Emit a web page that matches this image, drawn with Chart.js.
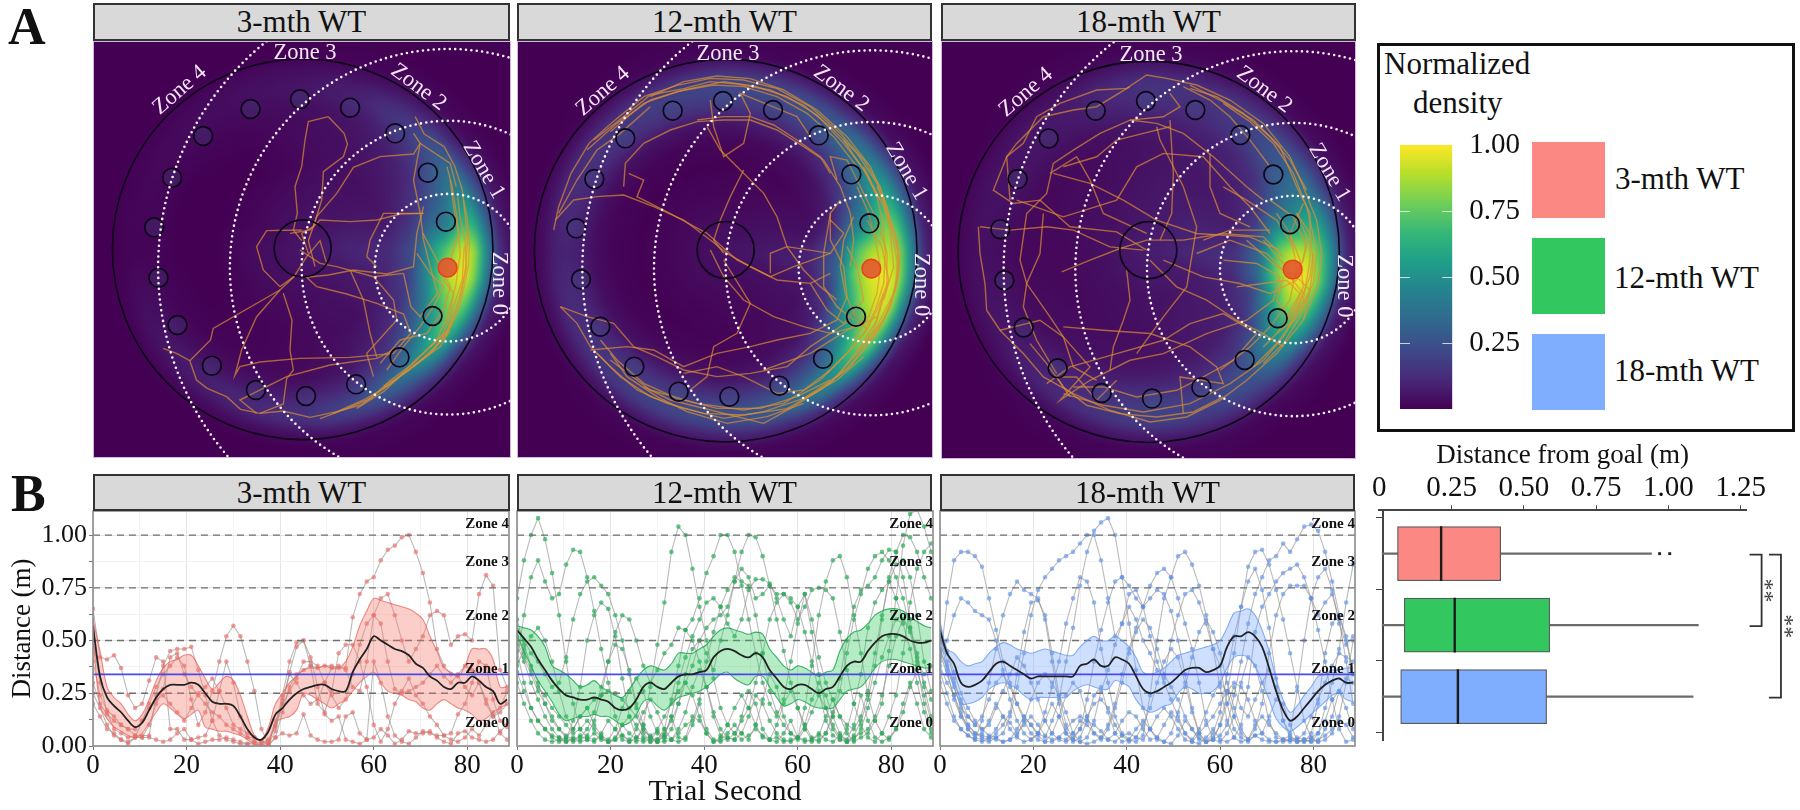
<!DOCTYPE html>
<html>
<head>
<meta charset="utf-8">
<script src="https://cdn.jsdelivr.net/npm/chart.js@4"></script>
<style>
  html, body { margin: 0; background: #fff; }
  #page { position: relative; width: 1800px; height: 810px; overflow: hidden; font-family: "Liberation Serif", serif; color: #111; }
  #page canvas { position: absolute; }
  .strip { position: absolute; box-sizing: border-box; background: #d9d9d9; border: 2px solid #333; text-align: center; font-size: 31px; }
  .txt { position: absolute; white-space: nowrap; line-height: 1; }
  .swatch { position: absolute; }
</style>
</head>
<body>
<div id="page"></div>
<script>
// ---- panel names and colours
const groups = ['3-mth WT', '12-mth WT', '18-mth WT'];
const groupFill = ['#fb8882', '#33c85f', '#7fadff'];

// ---- trial seconds, one reading every 1.5 s
const secs = [0,1.5,3,4.5,6,7.5,9,10.5,12,13.5,15,16.5,18,19.5,21,22.5,24,25.5,27,28.5,30,31.5,33,34.5,36,37.5,39,40.5,42,43.5,45,46.5,48,49.5,51,52.5,54,55.5,57,58.5,60,61.5,63,64.5,66,67.5,69,70.5,72,73.5,75,76.5,78,79.5,81,82.5,84,85.5,87,88.5];

// distance values below are in cm
const mean3 = [57,33,23,19,16,12,9,11,17,23,27,29,29,29,30,29,25,21,20,20,19,14,8,4,3,7,15,18,22,25,27,28,29,29,27,26,26,35,41,46,52,50,48,46,45,43,39,37,33,31,28,27,30,30,33,31,28,26,20,22];
const upper3 = [60,45,28,23,20,15,12,15,22,31,37,40,41,43,43,38,32,27,30,33,31,24,14,5,3,9,20,25,30,33,36,37,37,38,37,37,40,47,57,64,70,69,68,67,66,65,63,60,52,45,37,35,33,38,46,46,46,41,28,28];
const lower3 = [52,19,13,9,7,5,4,6,11,16,20,18,15,13,15,17,9,8,7,7,6,5,3,1,0,1,11,13,14,17,25,24,22,20,18,20,22,26,30,33,35,30,26,25,24,22,21,18,17,20,22,20,18,17,15,12,13,16,18,20];
const mean12 = [55,51,47,41,36,31,27,24,23,22,22,23,22,21,18,17,18,22,28,30,28,27,30,33,34,34,35,36,42,45,46,45,43,42,44,42,36,32,28,27,29,29,27,25,27,28,33,38,40,40,45,49,52,53,53,52,50,49,49,50];
const upper12 = [57,56,55,52,47,38,36,34,31,28,29,31,28,26,24,23,27,32,36,38,37,36,39,44,44,44,46,48,52,55,56,55,54,53,54,53,46,42,38,36,38,37,35,33,35,36,45,51,54,55,58,62,64,65,65,64,61,59,57,56];
const lower12 = [53,45,38,31,26,21,15,12,13,14,14,15,14,14,12,10,11,15,21,22,19,17,20,23,24,25,26,28,31,34,35,32,30,29,33,33,28,23,19,20,22,21,19,18,18,18,22,26,27,28,32,37,40,41,41,40,39,38,37,37];
const mean18 = [55,44,39,30,28,29,31,35,39,40,38,36,34,32,33,33,33,33,33,33,38,39,41,38,38,42,41,39,33,27,25,26,28,30,33,36,37,37,35,36,38,47,52,52,54,52,47,37,26,17,12,14,18,22,26,29,31,32,30,30];
const upper18 = [59,46,44,40,38,39,40,44,47,49,48,46,45,44,45,46,45,44,43,43,47,50,52,50,50,52,50,47,42,35,34,35,37,40,43,44,45,46,47,48,50,56,63,64,65,62,55,45,32,22,16,19,24,28,33,34,36,36,37,37];
const lower18 = [52,37,28,20,20,21,23,27,29,30,29,27,24,22,23,23,23,23,23,26,28,29,28,27,27,31,30,28,22,18,16,17,19,20,25,28,27,25,25,26,30,37,42,43,42,38,30,22,13,9,7,9,12,15,18,21,24,25,22,21];

const trials3 = [
  [65,42,41,43,37,24,18,20,31,42,40,8,8,3,3,4,5,12,26,40,30,14,4,2,1,3,9,20,35,47,50,42,28,15,12,14,3,2,1,3,40,30,14,5,2,1,4,7,6,5,5,3,2,4,8,5,10,16,6,3],
  [50,30,16,8,6,4,5,5,5,24,38,45,46,46,47,36,24,12,5,3,2,1,1,2,0,2,10,24,40,49,50,38,20,16,26,44,48,48,40,28,10,2,8,20,26,32,24,20,14,10,5,6,15,20,30,40,38,22,12,9],
  [25,18,10,5,3,1,4,12,20,28,34,38,42,38,22,10,16,26,40,52,57,52,40,26,8,1,4,16,28,34,36,38,37,38,38,37,37,61,72,78,80,88,93,95,99,100,92,82,68,46,38,34,33,28,24,30,20,14,16,20],
  [20,14,8,6,3,2,4,4,4,3,2,3,6,8,3,1,2,3,3,4,3,2,1,1,0,0,4,6,5,6,15,5,3,2,2,3,14,16,6,3,4,8,5,1,3,7,6,6,7,4,2,1,6,7,4,3,2,3,7,10],
  [40,24,17,14,10,8,5,4,10,20,27,42,44,34,28,24,20,16,14,10,8,6,4,4,2,2,12,20,26,32,40,40,38,30,24,18,22,34,48,58,62,70,72,62,50,40,46,52,62,64,62,48,52,53,50,72,81,76,36,28],
  [30,20,15,12,10,8,8,12,18,22,24,20,16,12,18,25,28,32,26,18,10,8,6,4,2,1,7,22,34,30,24,20,22,30,37,38,36,28,26,40,62,58,40,27,25,26,28,30,34,38,33,30,34,38,36,30,22,14,18,26]
];
const trials12 = [
  [70,88,100,108,98,82,62,40,20,8,4,3,4,2,3,5,3,2,10,28,48,68,92,104,100,84,66,50,32,18,10,6,3,5,8,5,3,4,2,3,4,18,38,62,78,88,90,80,62,44,24,12,20,45,70,95,110,112,104,92],
  [40,62,80,88,78,70,72,86,93,92,80,64,46,30,14,5,2,4,8,4,2,5,14,30,42,52,60,68,70,66,58,52,60,74,79,79,77,70,60,52,66,72,54,34,18,8,3,2,5,12,22,38,60,80,92,100,99,92,80,70],
  [55,50,44,40,34,28,30,42,60,72,78,80,76,72,62,50,34,18,6,2,3,6,12,20,30,38,50,56,60,62,66,78,92,100,99,90,76,60,45,30,18,10,4,2,6,14,26,44,60,72,84,90,92,88,80,70,56,42,30,22],
  [45,30,18,12,8,5,4,3,12,28,50,62,68,65,52,32,14,4,3,5,7,4,3,6,10,12,22,40,54,66,74,80,78,76,62,44,26,16,10,6,4,3,2,3,6,16,32,50,66,74,76,80,88,93,92,80,60,38,20,8],
  [30,20,12,6,3,2,3,2,4,2,3,6,3,2,4,10,6,3,2,3,2,5,14,4,3,10,20,8,3,2,4,3,14,26,20,8,3,2,6,12,4,2,3,6,3,2,5,3,10,24,12,4,2,4,8,20,30,20,8,4],
  [50,42,34,26,20,14,8,4,2,3,5,12,24,40,54,62,60,50,38,30,36,44,48,56,55,50,40,28,14,5,3,6,12,18,30,44,60,68,72,70,66,54,40,26,12,5,3,8,20,34,56,68,74,78,70,60,54,40,34,38],
  [60,48,38,30,20,12,8,5,3,4,8,16,28,40,48,46,36,20,10,4,3,8,22,38,55,60,70,82,90,100,100,92,76,60,44,30,20,14,22,40,58,72,60,42,30,22,14,10,8,14,26,44,62,78,86,88,80,62,40,26],
  [35,26,18,12,8,4,2,4,8,14,18,10,5,3,8,18,26,32,26,14,6,3,8,20,34,46,50,44,36,50,62,78,84,80,70,72,76,72,72,68,60,66,74,75,74,70,54,36,20,10,4,2,6,14,24,44,68,84,92,96],
  [52,44,36,28,24,18,14,10,6,8,12,8,4,2,3,10,14,10,4,2,8,14,20,26,30,24,14,6,2,3,6,10,6,3,10,22,34,28,14,6,3,8,16,24,18,10,4,2,4,6,8,14,24,38,52,60,56,44,28,14],
  [38,46,52,56,50,40,26,14,8,14,18,22,24,26,25,22,18,14,8,4,2,2,3,8,16,28,36,28,16,8,4,3,6,14,24,20,12,6,3,2,4,10,22,30,24,14,6,2,3,8,18,30,42,52,60,58,46,30,16,6],
  [48,40,30,22,14,8,4,2,3,5,3,2,6,12,8,3,2,8,16,22,16,8,3,2,4,14,12,6,2,4,10,18,24,18,10,4,3,10,20,26,18,8,3,5,14,22,14,6,2,4,6,12,6,3,8,16,28,36,24,12]
];
const trials18 = [
  [40,68,88,92,92,90,85,70,55,40,30,20,14,10,6,4,12,22,40,56,76,92,102,106,108,100,80,58,36,18,8,4,2,1,5,12,8,4,2,3,5,10,24,40,58,72,80,88,90,96,92,98,104,105,102,92,78,62,50,34],
  [50,45,35,25,18,12,8,5,4,6,14,28,44,62,74,80,84,88,90,92,96,100,100,88,70,52,58,72,74,66,52,40,30,22,14,6,2,1,4,8,3,2,4,10,28,54,66,72,78,82,84,86,80,70,55,40,22,8,2,3],
  [42,50,62,70,68,64,62,60,50,36,22,12,6,3,6,16,28,40,58,70,80,78,68,46,30,14,6,3,2,5,24,50,70,80,90,92,86,76,62,46,28,12,4,2,3,8,20,44,62,72,76,76,76,70,62,68,72,60,40,20],
  [35,25,14,8,5,3,12,30,46,62,72,78,74,72,70,60,40,20,6,3,8,22,40,55,68,78,80,76,70,66,70,74,72,64,50,34,18,6,2,3,10,25,44,66,85,92,93,86,74,60,44,28,12,4,2,3,6,14,30,50],
  [46,36,22,14,10,6,4,3,6,10,16,34,54,68,69,62,44,24,10,3,2,4,12,26,36,48,58,66,60,50,44,36,32,50,62,72,74,68,58,46,38,20,8,4,2,5,6,14,22,20,10,3,2,6,20,44,58,62,52,34],
  [30,20,12,8,5,3,2,4,8,14,11,6,10,14,10,5,3,4,8,12,14,12,10,7,3,2,5,6,4,3,8,14,18,14,8,3,2,6,10,14,20,26,30,28,22,12,6,3,2,2,3,2,3,2,3,5,8,12,10,4],
  [45,38,30,22,14,10,14,22,30,34,28,20,12,6,3,2,6,14,24,30,26,14,6,3,8,18,30,44,54,60,56,46,34,28,22,14,8,3,2,6,16,34,52,66,78,84,74,56,32,12,6,26,50,70,80,84,74,58,48,52],
  [52,44,32,20,10,6,5,4,3,2,3,5,12,22,30,34,30,24,16,6,2,1,2,4,10,20,34,46,56,66,76,82,84,80,70,58,46,30,12,3,2,6,14,30,42,38,26,12,4,3,5,2,3,4,6,18,30,46,68,86],
  [38,30,24,14,8,5,6,12,20,14,8,4,2,3,6,12,20,14,6,2,4,12,24,28,16,6,2,3,8,12,8,3,2,6,16,28,42,54,60,54,44,30,18,8,3,5,3,2,2,3,3,2,2,3,2,8,14,26,32,30],
  [55,40,28,18,14,10,8,10,18,26,34,42,38,30,22,12,6,3,2,4,8,14,20,22,18,10,5,2,4,10,18,30,40,46,42,30,16,6,2,4,10,20,28,18,14,22,30,36,28,12,4,3,6,14,22,30,38,44,42,40],
  [44,34,24,16,8,4,3,2,4,2,3,8,14,10,5,2,2,4,3,6,12,10,6,4,3,6,12,16,14,8,3,4,10,16,12,6,3,8,16,24,30,26,14,6,3,10,14,10,6,3,2,4,3,2,6,12,22,26,18,8]
];

const zoneLevels = [0.25, 0.5, 0.75, 1.0];
const goalDistance = 0.34;
const zoneNames = ['Zone 0', 'Zone 1', 'Zone 2', 'Zone 3', 'Zone 4'];
const zoneLabelAt = [0.11, 0.364, 0.615, 0.87, 1.05];

// ---- box plot, distance from goal (m)
const boxRows = [1, 2, 3];
const boxLow = [0.01, 0.01, 0.01];
const boxQ1 = [0.063, 0.0865, 0.074];
const boxMedian = [0.214, 0.261, 0.272];
const boxQ3 = [0.42, 0.59, 0.579];
const boxHigh = [0.942, 1.104, 1.086];
const outlierX = [0.97, 1.005];
const bracketFrom = [1, 1];
const bracketTo = [2, 3];
const bracketAt = [1.323, 1.39];

// ---- arena maps, all in the map grid (one grid unit = 1/3 px)
const mapBounds = [[280, 1532, 123, 1374], [20, 1268, 123, 1374], [33, 1278, 123, 1376]];
const arenaX = [908, 646, 656];
const arenaY = [748, 752, 755];
const arenaR = [570, 574, 572];
const zoneR = [221, 440, 655, 870];
const goalX = [1342, 1083, 1088];
const goalY = [803, 806, 808];
const platX = [908, 646, 655];
const platY = [745, 750, 750];
const holesX = [
  [1337,1283,1185,1050,900,752,610,517,463,476,533,636,768,918,1068,1198,1297],
  [1077,1023,925,788,638,487,345,252,198,212,270,372,505,657,807,938,1037],
  [1080,1030,931,796,648,497,356,263,211,223,281,383,515,666,814,944,1043]
];
const holesY = [
  [665,518,400,323,298,327,408,533,682,833,975,1097,1170,1188,1153,1072,948],
  [670,523,406,330,303,332,415,537,685,838,980,1100,1175,1190,1157,1076,950],
  [672,523,405,330,303,332,415,537,687,840,982,1104,1178,1195,1161,1079,954]
];
const zoneTagX = [587, 542, 347, 7, -368];
const zoneTagY = [102, -238, -486, -590, -478];
const zoneTagTurn = [90, 60, 37, 0, -41];

// swim tracks as x,y,x,y...
const tracks3 = [
  [490,1045,530,1060,570,1082,590,1140,622,1165,680,1190,722,1228,780,1240,850,1233,930,1252,1010,1235,1082,1215,1130,1180,1192,1135,1250,1076,1302,1030,1352,980,1376,900,1395,812,1402,720,1394,640,1386,570,1364,500,1332,440,1272,402,1245,350],
  [960,1256,1040,1226,1110,1196,1170,1142,1240,1090,1310,1020,1340,950,1366,860,1380,760,1370,650,1356,560,1340,500],
  [1000,1240,1090,1200,1160,1160,1230,1105,1290,1060,1340,1000,1360,920,1386,840,1392,740],
  [985,350,925,365,915,420,905,500,885,560,892,640,880,690,905,722],
  [985,350,1032,400,1042,432,1030,470,970,515,965,600,940,680,905,700,925,760],
  [1240,400,1260,430,1240,462,1140,470,1060,502,1010,580,950,650,925,722,945,800],
  [905,690,800,692,770,740,790,810,840,860,882,830,920,770,960,722,980,790],
  [1270,640,1200,642,1130,660,1050,665,960,660,930,690,870,700],
  [1270,620,1250,700,1240,800,1160,822,1060,810,985,825,920,832,950,860,1040,882,1130,910,1210,942,1232,1000,1180,1060,1050,1072,900,1075,780,1086,720,1100,705,1126,725,1050,770,950,840,870,882,830],
  [840,870,640,985,632,1020,570,1082],
  [850,880,876,960,870,1050,880,1110,860,1136,850,1212,780,1240],
  [1050,810,1090,900,1110,1000,1130,1072],
  [1130,800,1100,770,1110,720,1150,640,1270,640],
  [1210,820,1232,920,1260,950,1312,880,1290,800,1270,720,1260,640,1240,540,1260,430,1350,490,1368,560],
  [1140,1090,1200,1020,1280,1000,1330,930,1350,860,1300,760,1268,700],
  [1240,1100,1300,1045,1345,990,1375,930,1392,860,1405,790,1408,720,1400,650,1390,600],
  [1150,1160,1225,1112,1285,1065,1335,1010,1362,945,1383,880,1398,800,1395,725,1380,655,1372,590],
  [1290,1040,1330,1000,1350,940,1360,880,1330,840,1350,780,1375,700,1360,620,1350,540],
  [1070,1225,1150,1175,1210,1120,1270,1075,1320,1040,1350,990],
  [1250,760,1290,820,1330,860,1300,920,1260,980,1210,1040,1160,1110],
  [1210,820,1120,830,1010,800,960,790,900,750],
  [1120,830,1180,900,1190,960,1100,1060,1120,1130],
  [770,1240,720,1200,860,1130,990,1095,1130,1075,1180,1050]
];
const tracks12 = [
  [130,690,145,620,182,520,236,430,300,372,400,290,500,256,600,235,700,240,800,266,900,320,990,400,1060,480,1110,560,1130,640,1160,720,1166,820,1140,920,1090,1010,1020,1100,930,1170,830,1226,700,1245,580,1240,470,1210,380,1170,300,1100,240,1040,200,970,150,920],
  [250,420,340,350,420,285,520,266,600,245,680,252,780,270,880,316,960,380,1040,460,1100,550,1122,620,1140,700,1150,800,1120,900],
  [420,290,520,245,620,228,720,236,820,270,920,330,1010,410,1080,500,1120,590,1170,760,1150,880,1100,980,1040,1060],
  [340,560,345,490,400,430,480,390,560,365,640,360,720,360,800,390,880,440,940,480,990,560,1020,640,1030,720,1020,800],
  [135,660,190,600,260,590,340,585,430,620,520,660,600,720,650,760,720,800,800,840,900,850,960,820],
  [355,520,400,540,380,590,460,630,590,700,680,780,780,830,850,800,960,760],
  [590,380,630,450,690,510,760,580,800,650,830,740,880,810,930,860,980,900],
  [700,510,660,590,630,660,610,720,640,760],
  [600,750,640,830,700,900,790,950,880,980,960,1000,1020,960],
  [640,780,720,910,680,1000,610,1040,590,1130,540,1170],
  [150,920,230,950,310,970,370,1040,440,1070,520,1110,620,1130,720,1120,830,1100,900,1040,960,1000,1040,980,1100,950],
  [240,1050,350,1040,430,1050,520,1100,620,1060,720,1040,800,1020,900,1000,980,960,1010,890,1000,800,960,720,960,640,990,600],
  [980,1130,1050,1040,1100,960,1130,860,1130,760,1100,660,1060,580,1010,480,960,470,980,540],
  [400,1160,480,1200,600,1230,760,1270,850,1220,960,1150,1040,1060,1090,990,1120,880],
  [780,820,780,760,830,740,960,760,1000,700,960,660],
  [300,1080,420,1170,560,1210,700,1230,820,1210,930,1140,1010,1060,1070,990],
  [600,300,610,380,640,470,700,430,720,340,690,280,860,350,900,410],
  [900,850,950,930,1000,970,1060,900,1040,800,1010,740],
  [1100,560,1130,620,1145,700,1160,780,1160,850,1135,930,1105,990,1060,1050,1010,1105,950,1150,880,1195],
  [1060,500,1100,590,1118,670,1125,760,1120,850,1095,930,1060,1000,1010,1060,950,1120],
  [1040,560,1075,640,1095,720,1110,800,1100,880,1075,950,1030,1020],
  [1000,420,1060,510,1120,620,1150,690,1168,790,1155,870,1120,960,1070,1030],
  [1030,650,1000,720,990,800,1005,880,1030,940,1070,990,1100,930,1135,840,1115,740,1070,660],
  [960,640,940,760,940,860,980,920,1030,960],
  [1060,1070,980,1140,880,1195,760,1235,640,1255,520,1225,420,1190,330,1130,260,1060],
  [960,1140,860,1190,750,1225,620,1225,500,1195,400,1150,320,1080,270,1020],
  [880,1210,770,1250,650,1270,530,1235,440,1190,350,1130,300,1060],
  [300,395,400,310,500,275,610,255,700,260,800,290,890,340,970,410,1040,500],
  [230,450,320,370,420,300,520,270,640,245,730,258,830,290,920,345,1000,430,1070,520,1110,600],
  [145,640,200,540,260,450,330,400,420,320],
  [560,360,640,350,720,350,790,375,860,420,930,470,960,520],
  [760,1110,900,1060,980,1010,1060,960],
  [520,1120,620,1100,700,1130,800,1180,880,1170,960,1110]
];
const tracks18 = [
  [145,680,150,760,165,850,170,930,210,990,280,1060,340,1130,430,1180,540,1230,660,1265,770,1250,870,1200,950,1140,1040,1060,1120,960,1165,850,1175,760,1160,660,1120,560,1080,470,1000,370,900,300,800,255,710,235,650,225,590,265,500,270,390,310,320,350,280,430,230,470,190,570,250,610,330,600,420,680,560,695,650,750],
  [780,255,870,300,970,360,1050,440,1100,560,1140,640,1140,780,1120,900,1060,1010,1000,1080,900,1150,780,1210,640,1235,520,1215,400,1180],
  [720,280,750,320,700,350,600,360,510,400,430,450,370,490,350,580,290,640,270,780,290,850,360,950,400,1010,430,1100,500,1140],
  [370,520,480,550,580,600,680,660,800,700,960,710,1050,750],
  [260,600,400,650,560,600,620,500,700,460,820,470,900,560,960,620,1020,700],
  [150,680,240,690,350,680,430,690,540,740,640,750],
  [395,815,480,780,570,745,650,720,760,720,880,700,1000,710,1060,770],
  [590,810,600,900,580,960,550,1040,540,1110],
  [720,360,730,520,725,640,690,720],
  [660,780,740,860,830,900,920,960,1000,1000,1060,1040],
  [400,980,520,990,660,1000,780,1040,860,1100,880,1150,750,1130,760,1240],
  [210,990,330,960,400,1010,480,1100,390,1200,480,1140,600,1080,700,1060,830,1000,950,960,1030,900,1050,830,980,790,880,780],
  [840,460,840,560,870,640,960,680],
  [680,380,690,420,760,560,800,680,770,860,700,950,620,1060],
  [360,520,440,470,480,540,520,640,650,700],
  [800,760,900,720,1010,760,1080,830,1120,880,1090,960,1040,1000],
  [700,780,820,830,930,850,1020,880,1100,840,1130,740,1090,650,1020,600],
  [870,1110,960,1040,1020,980,1080,900,1100,800,1080,700,1120,610],
  [430,1160,520,1160,620,1190,740,1170,820,1130,910,1080,980,1000],
  [880,560,950,600,1040,660,1090,740],
  [1100,640,1140,700,1150,790,1140,870,1110,950,1060,1030,1000,1090],
  [1040,640,1080,700,1110,780,1120,860,1090,930,1040,1000,1000,1040],
  [1000,720,1060,790,1090,840,1120,780,1130,710,1100,640],
  [1060,830,1040,900,1080,960,1110,900,1140,830,1150,760],
  [950,720,1040,800,1100,830,1140,870,1120,960],
  [920,860,1000,850,1070,840,1110,880,1070,950],
  [970,1100,1040,1030,1100,950,1150,850,1160,750,1130,620,1090,520,1030,430,960,365,880,310],
  [1130,570,1080,480,1020,410,940,340,860,290,780,265],
  [760,260,840,300,900,350,960,420,1020,500],
  [880,1190,790,1235,680,1250,570,1240,470,1215,400,1160,350,1090,300,1030],
  [420,1190,380,1130,440,1130,500,1200,560,1140],
  [380,1120,320,1020,280,920,290,850,330,760,340,640],
  [350,1150,420,1100,560,1060,700,1020,780,970,880,940,980,1000],
  [240,600,230,470,260,430,340,350,430,330,500,320,600,260],
  [600,360,680,370,760,400,850,470,950,560,1000,600],
  [400,500,500,470,560,420,640,400,720,380],
  [820,720,900,690,1020,690]
];

// density, percent, rows = radius / arena radius, columns = angle round the arena centre
const densityRadii = [0, 0.25, 0.45, 0.58, 0.68, 0.76, 0.84, 0.90, 0.96, 1.03, 1.15];
const densityAngles = [-180,-150,-120,-90,-70,-50,-35,-20,-10,0,10,20,35,50,70,90,120,150];
const density3 = [
  [6,6,6,6,6,6,6,6,6,6,6,6,6,6,6,6,6,6],
  [3,2,3,4,5,5,6,8,9,10,9,7,6,5,4,3,3,3],
  [0,0,0,2,4,4,5,6,9,12,11,9,7,4,3,2,1,0],
  [0,0,0,3,4,6,8,12,18,24,22,18,12,8,4,2,1,0],
  [0,0,1,3,5,8,12,22,35,55,55,42,25,14,6,3,2,1],
  [1,1,2,4,6,12,20,32,42,75,88,70,45,26,12,8,5,2],
  [1,2,3,6,9,18,28,45,65,95,98,85,65,42,22,14,10,5],
  [1,2,3,5,8,15,27,45,62,85,85,72,50,28,20,14,8,5],
  [0,1,2,3,4,8,12,25,35,48,48,38,20,12,8,5,3,2],
  [0,0,0,0,1,2,3,6,8,12,12,8,4,2,1,0,0,0],
  [0,0,0,0,0,0,0,0,0,0,0,0,0,0,0,0,0,0]
];
const density12 = [
  [5,5,5,5,5,5,5,5,5,5,5,5,5,5,5,5,5,5],
  [2,2,2,2,2,3,4,5,6,7,7,5,4,3,2,2,2,2],
  [0,0,0,0,1,1,2,3,5,10,10,7,4,3,2,1,0,0],
  [1,1,1,2,2,3,5,8,14,28,30,20,10,5,3,2,2,1],
  [3,4,5,6,8,10,14,24,42,70,78,60,30,14,8,6,6,4],
  [8,10,14,16,16,20,28,40,55,88,95,85,55,28,18,15,14,10],
  [10,14,18,22,22,30,42,60,80,90,98,95,80,50,30,25,20,14],
  [8,12,15,20,20,26,38,55,70,85,92,90,72,45,28,22,18,12],
  [3,5,7,10,10,12,20,32,40,50,55,48,32,18,12,10,8,5],
  [0,0,1,1,1,2,4,7,9,12,12,10,5,3,2,1,1,0],
  [0,0,0,0,0,0,0,0,0,0,0,0,0,0,0,0,0,0]
];
const density18 = [
  [8,8,8,8,8,8,8,8,8,8,8,8,8,8,8,8,8,8],
  [4,4,5,6,7,8,9,10,10,12,10,8,7,6,5,5,4,4],
  [2,3,3,5,6,6,7,8,10,14,13,10,8,7,6,4,3,2],
  [2,2,3,5,6,8,9,14,22,35,35,22,12,8,6,5,4,3],
  [2,3,4,7,9,10,14,28,50,78,80,55,25,14,10,9,6,3],
  [3,5,6,12,12,16,24,36,55,92,100,85,48,22,16,16,10,5],
  [4,5,7,15,14,20,28,42,62,88,98,82,50,26,20,20,12,6],
  [4,5,7,14,14,18,25,38,55,72,78,65,40,22,18,18,12,6],
  [2,3,4,8,8,10,14,22,35,45,48,38,18,12,10,8,5,3],
  [0,0,1,2,2,2,3,6,8,11,11,8,4,2,2,1,1,0],
  [0,0,0,0,0,0,0,0,0,0,0,0,0,0,0,0,0,0]
];
const viridis = [[68,1,84],[72,40,120],[62,74,137],[49,104,142],[38,130,142],[31,158,137],[53,183,121],[110,206,88],[181,222,43],[253,231,37]];

const FONT = '"Liberation Serif"';
const page = document.getElementById('page');
Chart.defaults.font.family = FONT;
Chart.defaults.color = '#111';
Chart.defaults.animation = false;
Chart.defaults.layout.autoPadding = false;
Chart.defaults.plugins.legend.display = false;
Chart.defaults.plugins.tooltip.enabled = false;

function addCanvas(left, top, w, h) {
  const c = document.createElement('canvas');
  c.width = w; c.height = h;
  c.style.left = left + 'px'; c.style.top = top + 'px';
  c.style.width = w + 'px'; c.style.height = h + 'px';
  page.appendChild(c);
  return c;
}
function addText(str, left, top, size, extra) {
  const d = document.createElement('div');
  d.className = 'txt';
  d.textContent = str;
  d.style.cssText = `left:${left}px;top:${top}px;font-size:${size}px;${extra || ''}`;
  page.appendChild(d);
}
function addStrip(label, left, right, top, bottom) {
  const d = document.createElement('div');
  d.className = 'strip';
  d.textContent = label;
  d.style.cssText = `left:${left}px;top:${top}px;width:${right - left}px;height:${bottom - top}px;line-height:${bottom - top - 4}px`;
  page.appendChild(d);
}
function viridisAt(v) {
  const p = Math.max(0, Math.min(0.9999, v)) * (viridis.length - 1);
  const i = Math.floor(p), f = p - i;
  return viridis[i].map((c, k) => c + (viridis[i + 1][k] - c) * f);
}
// tick labels must not push the plot area in
function noPad(s) { s.paddingTop = 0; s.paddingBottom = 0; s.paddingLeft = 0; s.paddingRight = 0; }

// ---- panel A
function densityValue(table, rad, ang) {
  let ri = densityRadii.findIndex(r => r > rad) - 1;
  if (ri < 0) return 0;
  const rf = (rad - densityRadii[ri]) / (densityRadii[ri + 1] - densityRadii[ri]);
  const n = densityAngles.length;
  let ai = n - 1;
  for (let k = 0; k < n - 1; k++) if (ang >= densityAngles[k] && ang < densityAngles[k + 1]) ai = k;
  const a0 = densityAngles[ai], a1 = ai === n - 1 ? 180 : densityAngles[ai + 1];
  const af = (ang - a0) / (a1 - a0);
  const next = (ai + 1) % n;
  const top = table[ri][ai] + (table[ri][next] - table[ri][ai]) * af;
  const bot = table[ri + 1][ai] + (table[ri + 1][next] - table[ri + 1][ai]) * af;
  return (top + (bot - top) * rf) / 100;
}

const mapPlugin = {
  id: 'mapLayers',
  beforeDatasetsDraw(chart) {
    const { ctx, chartArea: a, scales: { x, y } } = chart;
    const p = chart.options.plugins.mapLayers;
    if (!chart.$density) {
      const w = Math.round(a.width), h = Math.round(a.height);
      const off = document.createElement('canvas');
      off.width = w; off.height = h;
      const oc = off.getContext('2d');
      const img = oc.createImageData(w, h);
      for (let j = 0; j < h; j++) for (let i = 0; i < w; i++) {
        const dx = x.getValueForPixel(a.left + i) - arenaX[p.idx];
        const dy = y.getValueForPixel(a.top + j) - arenaY[p.idx];
        const rad = Math.hypot(dx, dy) / arenaR[p.idx];
        const ang = Math.atan2(dy, dx) * 180 / Math.PI;
        const col = viridisAt(densityValue(p.table, Math.min(rad, 1.149), ang));
        const o = (j * w + i) * 4;
        img.data[o] = col[0]; img.data[o + 1] = col[1]; img.data[o + 2] = col[2]; img.data[o + 3] = 255;
      }
      oc.putImageData(img, 0, 0);
      chart.$density = off;
    }
    ctx.save();
    ctx.fillStyle = '#440154';
    ctx.fillRect(a.left, a.top, a.width, a.height);
    ctx.beginPath(); ctx.rect(a.left, a.top, a.width, a.height); ctx.clip();
    ctx.filter = 'blur(3px)';
    ctx.drawImage(chart.$density, a.left, a.top);
    ctx.filter = 'none';
    // arena wall
    const k = x.width / (x.max - x.min);
    ctx.beginPath();
    ctx.arc(x.getPixelForValue(arenaX[p.idx]), y.getPixelForValue(arenaY[p.idx]), arenaR[p.idx] * k, 0, Math.PI * 2);
    ctx.strokeStyle = '#0d0518'; ctx.lineWidth = 1.6; ctx.stroke();
    ctx.restore();
  },
  afterDatasetsDraw(chart) {
    const { ctx, chartArea: a, scales: { x, y } } = chart;
    const p = chart.options.plugins.mapLayers;
    const k = x.width / (x.max - x.min);
    const cx = x.getPixelForValue(goalX[p.idx] + 3), cy = y.getPixelForValue(goalY[p.idx]);
    ctx.save();
    ctx.beginPath(); ctx.rect(a.left, a.top, a.width, a.height); ctx.clip();
    ctx.strokeStyle = '#fbf3fb'; ctx.lineWidth = 2.6; ctx.lineCap = 'round'; ctx.setLineDash([0, 5.4]);
    zoneR.forEach(r => { ctx.beginPath(); ctx.arc(cx, cy, r * k, 0, Math.PI * 2); ctx.stroke(); });
    ctx.setLineDash([]);
    ctx.fillStyle = '#f4e6f6';
    ctx.font = `22.5px ${FONT}`; ctx.textAlign = 'center'; ctx.textBaseline = 'middle';
    zoneNames.forEach((z, i) => {
      ctx.save();
      ctx.translate(x.getPixelForValue(arenaX[p.idx] + zoneTagX[i]), y.getPixelForValue(arenaY[p.idx] + zoneTagY[i]));
      ctx.rotate(zoneTagTurn[i] * Math.PI / 180);
      ctx.fillText(z, 0, 0);
      ctx.restore();
    });
    ctx.restore();
    ctx.save();
    ctx.strokeStyle = 'rgba(226,204,236,0.9)'; ctx.lineWidth = 1;
    ctx.strokeRect(a.left + 0.5, a.top + 0.5, a.width - 1, a.height - 1);
    ctx.restore();
  }
};

function drawMap(i, tracks, table, left, right, top, bottom) {
  const c = addCanvas(left, top, right - left, bottom - top);
  const [xMin, xMax, yMin, yMax] = mapBounds[i];
  const paths = tracks.map(t => ({
    data: t.filter((_, k) => k % 2 === 0).map((v, k) => ({ x: v, y: t[k * 2 + 1] })),
    showLine: true, pointRadius: 0, borderWidth: 1.4, borderColor: 'rgba(222,145,50,0.68)', tension: 0
  }));
  new Chart(c, {
    type: 'scatter',
    data: { datasets: [
      { data: holesX[i].map((v, k) => ({ x: v, y: holesY[i][k] })), pointRadius: 9.4, borderWidth: 1.7, borderColor: '#0d0518', backgroundColor: 'rgba(70,110,150,0.18)' },
      { data: [{ x: goalX[i], y: goalY[i] }], pointRadius: 9.4, borderWidth: 1.4, borderColor: '#e8401c', backgroundColor: 'rgba(226,88,48,0.9)' },
      { data: [{ x: platX[i], y: platY[i] }], pointRadius: 28.5, borderWidth: 1.7, borderColor: '#0d0518', backgroundColor: 'rgba(0,0,0,0)' },
      ...paths
    ] },
    options: {
      responsive: false,
      layout: { padding: 0 },
      plugins: { mapLayers: { idx: i, table: table } },
      scales: {
        x: { type: 'linear', display: false, min: xMin, max: xMax },
        y: { type: 'linear', display: false, min: yMin, max: yMax, reverse: true }
      }
    },
    plugins: [mapPlugin]
  });
}

drawMap(0, tracks3, density3, 93, 511, 41, 458);
drawMap(1, tracks12, density12, 517, 933, 41, 458);
drawMap(2, tracks18, density18, 941, 1356, 41, 459);

// ---- panel B
const toPoints = arr => arr.map((v, k) => ({ x: secs[k], y: v / 100 }));
const panelFrame = {
  id: 'panelFrame',
  afterDatasetsDraw(chart) {
    const { ctx, chartArea: a, scales: { y } } = chart;
    ctx.save();
    ctx.strokeStyle = '#8a8a8a'; ctx.lineWidth = 1.6;
    ctx.strokeRect(a.left, a.top, a.width, a.height);
    ctx.fillStyle = '#111'; ctx.font = `bold 15px ${FONT}`;
    ctx.textAlign = 'right'; ctx.textBaseline = 'middle';
    zoneNames.forEach((z, i) => ctx.fillText(z, a.right, y.getPixelForValue(zoneLabelAt[i])));
    ctx.restore();
  }
};

function drawTrace(opts) {
  const { left, right, top, bottom, mean, upper, lower, trials, dot, ribbon, edge, first, title } = opts;
  const margin = first ? left : 15;
  const cv = addCanvas(left - margin, top - 6, right - left + margin + 4, 810 - top + 6);
  const level = v => ({ data: [{ x: 0, y: v }, { x: 88.9, y: v }], showLine: true, pointRadius: 0, borderWidth: 1.3, borderColor: '#6e6e6e', borderDash: [7, 5] });
  new Chart(cv, {
    type: 'scatter',
    data: { datasets: [
      { data: toPoints(mean), showLine: true, pointRadius: 0, borderWidth: 1.8, borderColor: '#222', tension: 0.35 },
      { data: [{ x: 0, y: goalDistance }, { x: 88.9, y: goalDistance }], showLine: true, pointRadius: 0, borderWidth: 1.7, borderColor: '#4a4ae6' },
      { data: toPoints(upper), showLine: true, pointRadius: 0, borderWidth: 1.1, borderColor: edge, backgroundColor: ribbon, fill: '+1', tension: 0.35 },
      { data: toPoints(lower), showLine: true, pointRadius: 0, borderWidth: 1.1, borderColor: edge, tension: 0.35 },
      ...zoneLevels.map(level),
      ...trials.map(t => ({ data: toPoints(t), showLine: true, pointRadius: 2.3, pointBorderWidth: 0, pointBackgroundColor: dot, borderWidth: 1.1, borderColor: 'rgba(140,140,140,0.6)', tension: 0 }))
    ] },
    options: {
      responsive: false,
      layout: { padding: { top: 6, right: 4, left: 0, bottom: 0 } },
      scales: {
        x: {
          type: 'linear', min: 0, max: 88.9,
          afterFit(s) { s.height = 810 - bottom; noPad(s); },
          title: title ? { display: true, text: title, font: { size: 30 }, color: '#111', padding: 0 } : { display: false },
          ticks: { stepSize: 10, includeBounds: false, autoSkip: false, maxRotation: 0, padding: 0, color: '#111', font: { size: 27 }, callback: v => (v % 20 === 0 ? String(v) : '') },
          grid: { color: c => (c.tick && c.tick.value % 20 === 0 ? '#e5e5e5' : '#f3f3f3'), tickLength: 4, tickColor: c => (c.tick && c.tick.value % 20 === 0 ? '#777' : 'rgba(0,0,0,0)') },
          border: { display: false }
        },
        y: {
          type: 'linear', min: 0, max: 1.114,
          afterFit(s) { s.width = margin; noPad(s); },
          title: first ? { display: true, text: 'Distance (m)', font: { size: 27 }, color: '#111', padding: { top: 7, bottom: 0 } } : { display: false },
          ticks: { display: !!first, stepSize: 0.125, includeBounds: false, autoSkip: false, padding: 2, color: '#111', font: { size: 26 }, callback: v => (Math.abs(v * 4 - Math.round(v * 4)) < 1e-6 ? v.toFixed(2) : '') },
          grid: { color: c => (c.tick && Math.abs(c.tick.value * 4 - Math.round(c.tick.value * 4)) < 1e-6 ? '#e5e5e5' : '#f3f3f3'), tickLength: first ? 4 : 0, tickColor: '#777' },
          border: { display: false }
        }
      }
    },
    plugins: [panelFrame]
  });
}

drawTrace({ left: 93, right: 509, top: 511, bottom: 746, mean: mean3, upper: upper3, lower: lower3, trials: trials3, dot: 'rgba(232,110,104,0.65)', ribbon: 'rgba(248,118,109,0.36)', edge: 'rgba(232,100,94,0.75)', first: true });
drawTrace({ left: 517, right: 933, top: 511, bottom: 746, mean: mean12, upper: upper12, lower: lower12, trials: trials12, dot: 'rgba(36,170,84,0.68)', ribbon: 'rgba(51,200,95,0.36)', edge: 'rgba(30,165,80,0.85)', title: 'Trial Second' });
drawTrace({ left: 940, right: 1355, top: 511, bottom: 746, mean: mean18, upper: upper18, lower: lower18, trials: trials18, dot: 'rgba(92,146,232,0.62)', ribbon: 'rgba(110,160,255,0.34)', edge: 'rgba(100,150,235,0.75)' });

// ---- box plot
const bracketPlugin = {
  id: 'brackets',
  afterDraw(chart) {
    const { ctx, scales: { x, y } } = chart;
    ctx.save();
    ctx.strokeStyle = '#333'; ctx.lineWidth = 1.8; ctx.fillStyle = '#444';
    bracketAt.forEach((b, i) => {
      const px = x.getPixelForValue(b), y0 = y.getPixelForValue(bracketFrom[i]) + 1, y1 = y.getPixelForValue(bracketTo[i]) + 1;
      ctx.beginPath();
      ctx.moveTo(px - 12, y0); ctx.lineTo(px, y0); ctx.lineTo(px, y1); ctx.lineTo(px - 12, y1);
      ctx.stroke();
      ctx.save();
      ctx.translate(px + 9, (y0 + y1) / 2);
      ctx.rotate(Math.PI / 2);
      ctx.font = `24px ${FONT}`; ctx.textAlign = 'center'; ctx.textBaseline = 'middle';
      ctx.fillText('**', 0, 6);
      ctx.restore();
    });
    ctx.restore();
  }
};
const boxCanvas = addCanvas(1340, 440, 460, 305);
new Chart(boxCanvas, {
  type: 'bar',
  data: { datasets: [
    { label: 'median', order: 0, grouped: false, barThickness: 54, backgroundColor: '#1c1c1c', data: boxRows.map((r, i) => ({ y: r, x: [boxMedian[i] - 0.003, boxMedian[i] + 0.003] })) },
    { label: 'box', order: 1, grouped: false, barThickness: 54, backgroundColor: groupFill, borderColor: '#5a5a5a', borderWidth: 1.2, borderSkipped: false, data: boxRows.map((r, i) => ({ y: r, x: [boxQ1[i], boxQ3[i]] })) },
    { label: 'whisker', order: 2, grouped: false, barThickness: 1.6, backgroundColor: '#6a6a6a', data: boxRows.map((r, i) => ({ y: r, x: [boxLow[i], boxHigh[i]] })) },
    { label: 'outliers', type: 'scatter', order: 0, pointStyle: 'rect', pointRadius: 2, backgroundColor: '#222', data: outlierX.map(v => ({ x: v, y: boxRows[0] })) }
  ] },
  options: {
    responsive: false,
    indexAxis: 'y',
    layout: { padding: { right: 54, bottom: 5, top: 0, left: 39.3 } },
    scales: {
      x: {
        type: 'linear', position: 'top', min: 0, max: 1.269,
        afterFit(s) { s.height = 70.3; noPad(s); },
        afterBuildTicks(s) { s.ticks = [0, 0.25, 0.5, 0.75, 1, 1.25].map(v => ({ value: v })); },
        title: { display: true, text: 'Distance from goal (m)', font: { size: 27 }, color: '#111', padding: 0 },
        ticks: { padding: 0, maxRotation: 0, color: '#111', font: { size: 29 }, callback: v => (v === 0 ? '0' : v.toFixed(2)) },
        grid: { drawOnChartArea: false, tickLength: 5, tickColor: c => (c.tick && c.tick.value === 0 ? 'rgba(0,0,0,0)' : '#444') },
        border: { color: '#444', width: 2 }
      },
      y: {
        type: 'linear', reverse: true, offset: false, min: 0.393, max: 3.606, position: { x: 0.0115 },
        afterFit(s) { noPad(s); },
        afterBuildTicks(s) { s.ticks = boxRows.map(v => ({ value: v })); },
        ticks: { display: false },
        grid: { drawOnChartArea: false, tickLength: 6, tickColor: '#444' },
        border: { color: '#444', width: 2 }
      }
    }
  },
  plugins: [bracketPlugin]
});

// ---- legend box
const legendBox = document.createElement('div');
legendBox.style.cssText = 'position:absolute;box-sizing:border-box;left:1377px;top:43px;width:418px;height:389px;border:3px solid #111';
page.appendChild(legendBox);
addText('Normalized', 1384, 48, 31);
addText('density', 1413, 87, 31);
[142, 238, 334].forEach((t, i) => {
  const s = document.createElement('div');
  s.className = 'swatch';
  s.style.cssText = `left:1532px;top:${t}px;width:73px;height:76px;background:${groupFill[i]}`;
  page.appendChild(s);
});
addText(groups[0], 1615, 163, 31);
addText(groups[1], 1614, 262, 31);
addText(groups[2], 1614, 355, 31);

const barCanvas = addCanvas(1400, 125, 135, 300);
new Chart(barCanvas, {
  type: 'bar',
  data: { labels: ['density'], datasets: [{
    data: [[0, 1]], barPercentage: 1, categoryPercentage: 1,
    backgroundColor(c) {
      const a = c.chart.chartArea;
      if (!a) return '#440154';
      const g = c.chart.ctx.createLinearGradient(0, a.bottom, 0, a.top);
      viridis.forEach((col, i) => g.addColorStop(i / (viridis.length - 1), `rgb(${col.join(',')})`));
      return g;
    }
  }] },
  options: {
    responsive: false,
    layout: { padding: { top: 20, bottom: 16, left: 0, right: 0 } },
    scales: {
      x: { display: false },
      y: {
        position: 'right', min: 0, max: 1,
        afterFit(s) { s.width = 82.7; noPad(s); },
        ticks: { stepSize: 0.25, padding: 9, color: '#111', font: { size: 29 }, callback: v => (v === 0 ? '' : v.toFixed(2)) },
        grid: { display: false }, border: { display: false }
      }
    }
  },
  plugins: [{
    id: 'barTicks',
    afterDatasetsDraw(chart) {
      const { ctx, chartArea: a, scales: { y } } = chart;
      ctx.save();
      ctx.strokeStyle = 'rgba(255,255,255,0.75)'; ctx.lineWidth = 1;
      [0.25, 0.5, 0.75].forEach(v => {
        const p = Math.round(y.getPixelForValue(v)) + 0.5;
        ctx.beginPath();
        ctx.moveTo(a.left, p); ctx.lineTo(a.left + 10, p);
        ctx.moveTo(a.right - 10, p); ctx.lineTo(a.right, p);
        ctx.stroke();
      });
      ctx.restore();
    }
  }]
});

// ---- strips and panel letters
addStrip(groups[0], 93, 510, 3, 41);
addStrip(groups[1], 517, 932, 3, 41);
addStrip(groups[2], 941, 1356, 3, 41);
addStrip(groups[0], 93, 510, 474, 511);
addStrip(groups[1], 517, 932, 474, 511);
addStrip(groups[2], 940, 1355, 474, 511);
addText('A', 8, 1, 52, 'font-weight:bold');
addText('B', 11, 468, 52, 'font-weight:bold');
</script>
</body>
</html>
